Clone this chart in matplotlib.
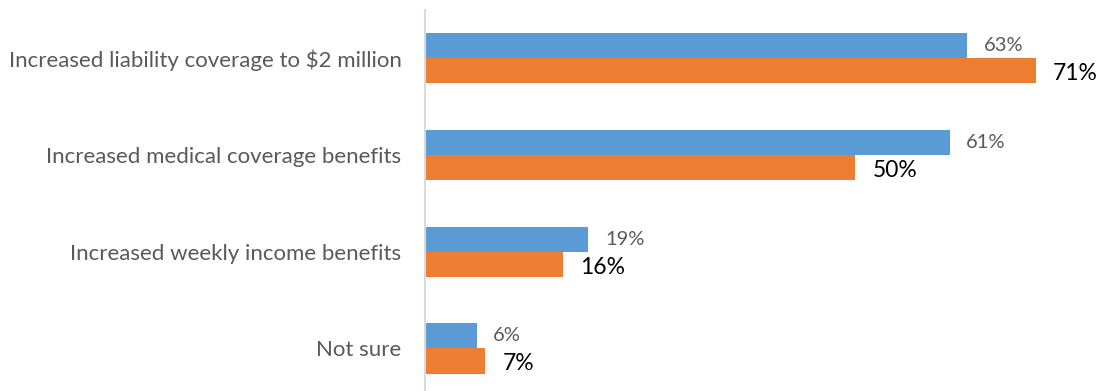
import numpy as np
import matplotlib.pyplot as plt

categories = ["Increased liability coverage to $2 million",
              "Increased medical coverage benefits",
              "Increased weekly income benefits",
              "Not sure"]
blue_vals = [63, 61, 19, 6]
orange_vals = [71, 50, 16, 7]

blue = "#5B9BD5"
orange = "#ED7D31"

fig = plt.figure(figsize=(11.04, 3.91), dpi=100)
ax = fig.add_axes([425 / 1104, 0, 679 / 1104, 1 - 10 / 391])

y = np.arange(len(categories))
h = 0.26
ax.barh(y - h / 2, blue_vals, height=h, color=blue)
ax.barh(y + h / 2, orange_vals, height=h, color=orange)

for yi, b, o in zip(y, blue_vals, orange_vals):
    ax.annotate(f"{b}%", (b, yi - h / 2), xytext=(12, 0), textcoords="offset points",
                va="center", ha="left", fontsize=14.5, color="#595959", family="Lato")
    ax.annotate(f"{o}%", (o, yi + h / 2 + 0.03), xytext=(12.5, 0), textcoords="offset points",
                va="center", ha="left", fontsize=16.5, color="black", family="Lato")

ax.set_xlim(0, 679 / 8.6)
ax.set_ylim(3.44, -0.5)
ax.set_yticks(y)
ax.set_yticklabels(categories, fontsize=16, color="#595959", family="Lato")
ax.tick_params(axis="y", length=0, pad=17)
ax.set_xticks([])
for s in ["top", "right", "bottom"]:
    ax.spines[s].set_visible(False)
ax.spines["left"].set_color("#D9D9D9")
ax.spines["left"].set_linewidth(1.5)

fig.savefig("out.png", dpi=100)
